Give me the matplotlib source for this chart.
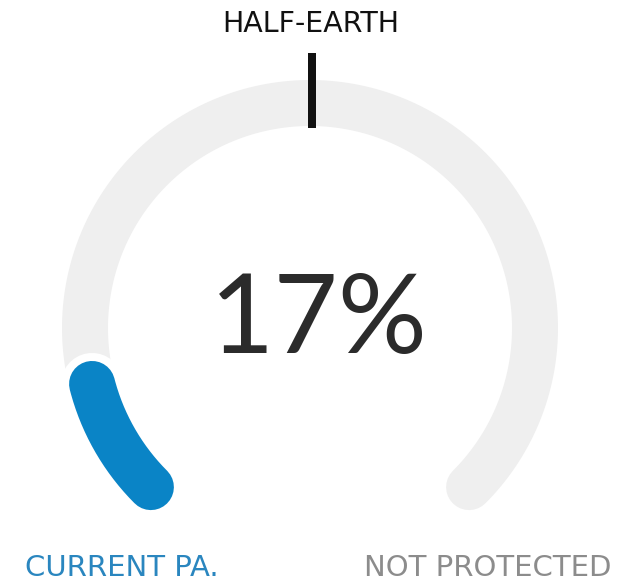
import numpy as np
from matplotlib import pyplot as plt

# gauge data
protected_pct = 17
target_pct = 50
target_label = 'HALF-EARTH'
left_label = 'CURRENT PA.'
right_label = 'NOT PROTECTED'

# geometry in pixel units (y goes down)
cx, cy = 310, 328
radius = 225
start_deg, end_deg = 225, -45
deg_per_pct = 1.8   # blue arc sweep as it appears in the picture

fig = plt.figure(figsize=(6.18, 5.81), dpi=100)
ax = fig.add_axes([0, 0, 1, 1])
ax.set_xlim(0, 618)
ax.set_ylim(581, 0)
ax.axis('off')


def arc(a0, a1):
    t = np.radians(np.linspace(a0, a1, 200))
    return cx + radius * np.cos(t), cy - radius * np.sin(t)


px = 0.72  # points per pixel at dpi 100

# background track
x, y = arc(start_deg, end_deg)
ax.plot(x, y, color='#efefef', lw=46 * px, solid_capstyle='round')

# current protected arc with white border
x, y = arc(start_deg, start_deg - protected_pct * deg_per_pct)
ax.plot(x, y, color='white', lw=62 * px, solid_capstyle='round')
ax.plot(x, y, color='#0a84c6', lw=46 * px, solid_capstyle='round')

# half-earth marker at top
ax.plot([312, 312], [53, 128], color='#111111', lw=8 * px, solid_capstyle='butt')

ax.text(311, 32, target_label, ha='center', va='baseline', fontsize=20.5,
        family='DejaVu Sans', color='#111111')
ax.text(319, 353, f'{protected_pct}%', ha='center', va='baseline', fontsize=80,
        family='Lato', color='#2b2b2b')
ax.text(25, 576, left_label, ha='left', va='baseline', fontsize=21,
        family='DejaVu Sans', color='#2a86bf')
ax.text(612, 576, right_label, ha='right', va='baseline', fontsize=21,
        family='DejaVu Sans', color='#8c8c8c')

fig.savefig('out.png', dpi=100)
